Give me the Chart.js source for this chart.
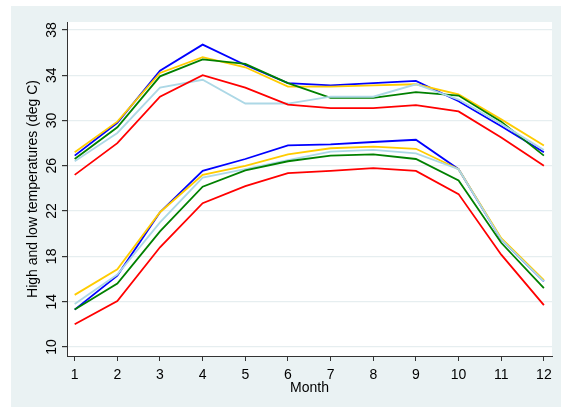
<!DOCTYPE html>
<html>
<head>
<meta charset="utf-8">
<script src="https://cdn.jsdelivr.net/npm/chart.js@4.4.1/dist/chart.umd.min.js"></script>
<style>
  html, body { margin: 0; padding: 0; background: #ffffff; }
  #wrap { width: 561px; height: 407px; }
</style>
</head>
<body>
<div id="wrap"><canvas id="myChart" width="561" height="407"></canvas></div>
<script>
// months on the x axis
const months = [1, 2, 3, 4, 5, 6, 7, 8, 9, 10, 11, 12];
const yTickValues = [10, 14, 18, 22, 26, 30, 34, 38];

// daily highs (deg C)
const highBlue = [26.9, 29.8, 34.4, 36.7, 34.9, 33.3, 33.1, 33.3, 33.5, 31.7, 29.5, 27.2];
const highGold = [27.2, 29.9, 34.2, 35.6, 34.7, 33.0, 33.0, 33.1, 33.2, 32.3, 30.1, 27.8];
const highGreen = [26.6, 29.4, 33.9, 35.4, 35.0, 33.3, 32.0, 32.0, 32.5, 32.2, 29.9, 26.9];
const highLtBlue = [26.4, 28.9, 32.9, 33.6, 31.5, 31.5, 32.1, 32.1, 33.2, 31.85, 29.7, 27.4];
const highRed = [25.2, 28.0, 32.1, 34.0, 32.9, 31.4, 31.1, 31.1, 31.35, 30.8, 28.5, 26.0];

// daily lows (deg C)
const lowBlue = [13.3, 16.3, 21.9, 25.55, 26.6, 27.8, 27.9, 28.1, 28.3, 25.7, 19.5, 15.8];
const lowGold = [14.6, 16.85, 21.9, 25.2, 26.0, 27.0, 27.55, 27.7, 27.5, 25.7, 19.6, 15.9];
const lowLtBlue = [13.8, 16.4, 21.0, 24.95, 25.7, 26.5, 27.25, 27.4, 27.1, 25.7, 19.5, 15.8];
const lowGreen = [13.3, 15.6, 20.2, 24.15, 25.6, 26.4, 26.9, 27.0, 26.6, 24.7, 19.2, 15.2];
const lowRed = [12.0, 14.05, 18.8, 22.7, 24.2, 25.35, 25.55, 25.8, 25.55, 23.5, 18.15, 13.7];

const series = [
  { values: highRed, color: "#ff0000" },
  { values: highLtBlue, color: "#add8e6" },
  { values: highGreen, color: "#008000" },
  { values: highGold, color: "#ffcc00" },
  { values: highBlue, color: "#0000ff" },
  { values: lowRed, color: "#ff0000" },
  { values: lowGreen, color: "#008000" },
  { values: lowLtBlue, color: "#add8e6" },
  { values: lowGold, color: "#ffcc00" },
  { values: lowBlue, color: "#0000ff" },
];

const datasets = series.map((s) => ({
  data: s.values.map((v, i) => ({ x: months[i], y: v })),
  borderColor: s.color,
  borderWidth: 1.8,
  pointRadius: 0,
  tension: 0,
  fill: false,
}));

// Stata-like backdrop: bluish outer region, white plot region
const backdrop = {
  id: "backdrop",
  beforeDraw(chart) {
    const ctx = chart.ctx;
    const a = chart.chartArea;
    ctx.save();
    ctx.fillStyle = "#ffffff";
    ctx.fillRect(0, 0, chart.width, chart.height);
    ctx.fillStyle = "#eaf2f3";
    ctx.fillRect(11, 6, chart.width - 11, chart.height - 6);
    ctx.fillStyle = "#ffffff";
    ctx.fillRect(a.left, a.top, a.right - a.left, a.bottom - a.top);
    ctx.restore();
  },
};

const font = { family: "'Liberation Sans', Arial, sans-serif", size: 14 };

const ctx = document.getElementById("myChart").getContext("2d");
const myChart = new Chart(ctx, {
  type: "line",
  data: { datasets: datasets },
  plugins: [backdrop],
  options: {
    responsive: false,
    animation: false,
    events: [],
    layout: { padding: { left: 11, top: 22, right: 9, bottom: 0 } },
    plugins: { legend: { display: false }, tooltip: { enabled: false } },
    scales: {
      x: {
        type: "linear",
        min: 0.82,
        max: 12.19,
        afterBuildTicks: (scale) => {
          scale.ticks = months.map((m) => ({ value: m }));
        },
        afterFit: (scale) => {
          scale.height = 51;
        },
        border: { color: "#333333", width: 1 },
        grid: { drawOnChartArea: false, tickColor: "#333333", tickLength: 5 },
        ticks: { color: "#000000", font: font, padding: 6, maxRotation: 0, autoSkip: false },
        title: { display: true, text: "Month", color: "#000000", font: font, padding: { top: 0, bottom: 10 } },
      },
      y: {
        type: "linear",
        min: 9.2,
        max: 38.7,
        afterBuildTicks: (scale) => {
          scale.ticks = yTickValues.map((v) => ({ value: v }));
        },
        afterFit: (scale) => {
          scale.width = 56;
        },
        border: { color: "#333333", width: 1 },
        grid: { color: "#e6eef0", lineWidth: 1.2, tickColor: "#333333", tickLength: 5 },
        ticks: { color: "#000000", font: font, padding: 2, minRotation: 90, maxRotation: 90, crossAlign: "center" },
        title: {
          display: true,
          text: "High and low temperatures (deg C)",
          color: "#000000",
          font: font,
          padding: { top: 14, bottom: 0 },
        },
      },
    },
  },
});
</script>
</body>
</html>
